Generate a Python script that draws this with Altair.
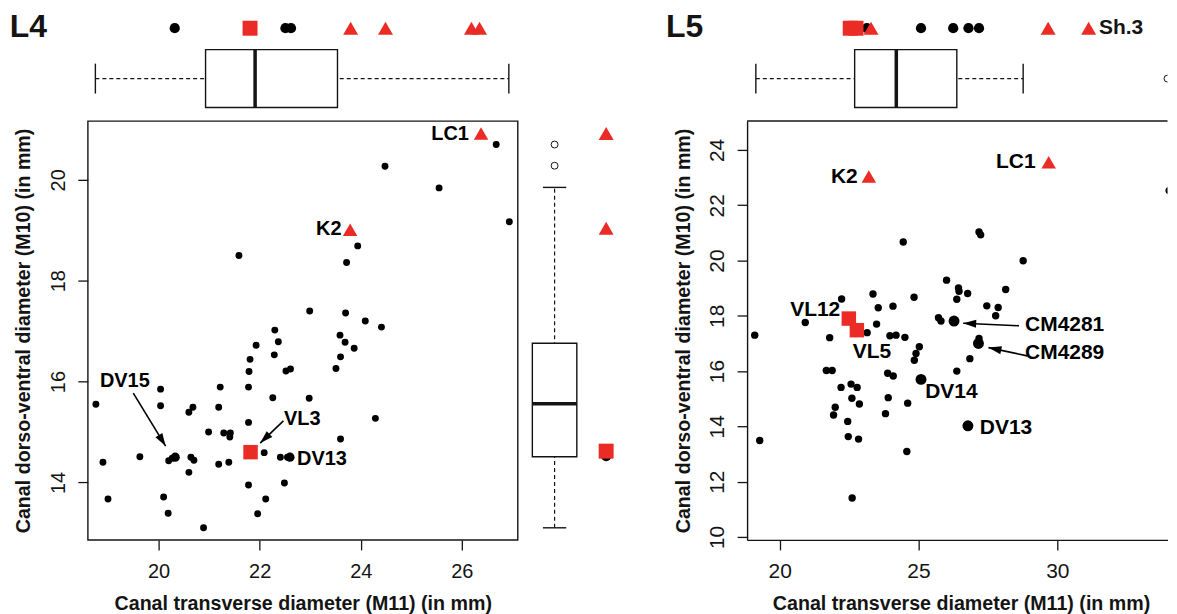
import math
import altair as alt
import pandas as pd

FONT = "Liberation Sans"
INK = "#141414"
RED = "#EB2B25"

PANEL_NAMES = ["L4", "L5"]
X_TITLE = "Canal transverse diameter (M11) (in mm)"
Y_TITLE = "Canal dorso-ventral diameter (M10) (in mm)"

# ---------------- L4 scatter ----------------
L4_X = [18.76, 18.90, 19.00, 19.63, 20.04, 20.04, 20.10, 20.19, 20.20, 20.27,
        20.60, 20.60, 20.68, 20.64, 20.70, 20.89, 20.99, 21.19, 21.22, 21.19,
        21.29, 21.41, 21.42, 21.39, 21.78, 21.78, 21.79, 21.78, 21.81, 21.93,
        22.09, 22.12, 21.96, 22.26, 22.29, 22.37, 22.30, 22.41, 22.55, 22.49,
        22.52, 22.61, 21.59, 23.94, 23.72, 22.99, 23.70, 24.09, 24.41, 23.59,
        23.69, 23.87, 23.60, 23.51, 22.98, 24.29, 23.60, 26.68, 24.48, 25.55,
        26.94]
L4_Y = [15.55, 14.40, 13.67, 14.51, 15.85, 15.52, 13.71, 13.39, 14.43, 14.48,
        14.20, 15.39, 15.49, 14.50, 14.44, 13.10, 15.00, 15.49, 15.89, 14.36,
        14.98, 14.90, 14.98, 14.40, 15.19, 13.95, 16.20, 15.89, 16.44, 16.72,
        14.59, 13.67, 13.38, 15.68, 16.53, 16.79, 17.02, 14.50, 14.50, 13.99,
        16.21, 16.25, 18.50, 18.69, 18.36, 17.40, 17.36, 17.20, 17.08, 16.92,
        16.78, 16.66, 16.49, 16.26, 15.67, 15.27, 14.86, 20.70, 20.27, 19.84,
        19.17]
L4_BIG_NAME = ["DV15", "DV13"]
L4_BIG_X = [20.33, 22.60]
L4_BIG_Y = [14.50, 14.50]
L4_RED_NAME = ["LC1", "K2", "VL3"]
L4_RED_X = [26.38, 23.79, 21.82]
L4_RED_Y = [20.92, 19.01, 14.60]
L4_RED_SHAPE = ["triangle-up", "triangle-up", "square"]
L4_LAB_TEXT = ["LC1", "K2", "DV15", "VL3", "DV13"]
L4_LAB_X = [26.14, 23.62, 18.84, 22.48, 22.74]
L4_LAB_Y = [20.91, 19.02, 16.02, 15.25, 14.47]
L4_LAB_ALIGN = ["right", "right", "left", "left", "left"]
L4_ARROW_X1 = [19.50, 22.47]
L4_ARROW_Y1 = [15.77, 15.22]
L4_ARROW_X2 = [20.14, 22.01]
L4_ARROW_Y2 = [14.72, 14.78]

# L4 marginal strips and box plots (lo whisker, Q1, median, Q3, hi whisker)
L4_TOP_BLACK = [20.32, 22.51, 22.62]
L4_TOP_SQUARE = [21.81]
L4_TOP_TRIANGLE = [23.80, 24.49, 26.19, 26.35]
L4_XBOX = [18.75, 20.93, 21.91, 23.54, 26.93]
L4_XOUT = []
L4_SIDE_BLACK = [14.52]
L4_SIDE_SQUARE = [14.62]
L4_SIDE_TRIANGLE = [20.92, 19.04]
L4_YBOX = [13.10, 14.51, 15.56, 16.76, 19.85]
L4_YOUT = [20.28, 20.70]

# ---------------- L5 scatter ----------------
L5_X = [24.45, 27.18, 27.24, 28.77, 26.01, 26.44, 26.46, 26.77, 28.14, 26.38,
        24.84, 23.36, 22.23, 23.55, 24.08, 27.46, 27.87, 27.78, 20.92, 23.49,
        25.72, 25.81, 23.15, 23.97, 24.19, 24.51, 21.80, 19.10, 25.03, 24.91,
        24.85, 26.85, 21.68, 21.89, 23.89, 24.09, 26.38, 22.21, 22.57, 22.79,
        23.91, 22.60, 22.87, 24.61, 22.00, 21.94, 23.81, 22.45, 22.47, 22.84,
        19.28, 24.58, 22.61, 34.03, 27.18]
L5_Y = [20.67, 21.03, 20.93, 19.99, 19.29, 19.01, 18.89, 18.81, 18.95, 18.60,
        18.67, 18.79, 18.61, 18.29, 18.35, 18.36, 18.30, 18.00, 17.76, 17.70,
        17.93, 17.81, 17.39, 17.28, 17.30, 17.22, 17.21, 17.30, 16.88, 16.64,
        16.39, 16.45, 16.02, 16.02, 15.92, 15.82, 16.00, 15.41, 15.53, 15.41,
        15.04, 15.02, 14.81, 14.84, 14.69, 14.41, 14.46, 14.18, 13.63, 13.54,
        13.49, 13.09, 11.41, 22.53, 17.18]
L5_BIG_NAME = ["CM4281", "CM4289", "DV14", "DV13"]
L5_BIG_X = [26.28, 27.16, 25.09, 26.78]
L5_BIG_Y = [17.81, 17.00, 15.70, 14.02]
L5_RED_NAME = ["K2", "LC1", "VL12", "VL5"]
L5_RED_X = [23.21, 29.69, 22.49, 22.78]
L5_RED_Y = [23.04, 23.56, 17.90, 17.48]
L5_RED_SHAPE = ["triangle-up", "triangle-up", "square", "square"]
L5_LAB_TEXT = ["K2", "LC1", "VL12", "VL5", "DV14", "DV13", "CM4281", "CM4289"]
L5_LAB_X = [22.81, 29.22, 22.18, 22.63, 25.24, 27.21, 28.84, 28.84]
L5_LAB_Y = [23.04, 23.56, 18.20, 16.68, 15.23, 13.93, 17.65, 16.64]
L5_LAB_ALIGN = ["right", "right", "right", "left", "left", "left", "left", "left"]
L5_ARROW_X1 = [28.62, 28.92]
L5_ARROW_Y1 = [17.64, 16.55]
L5_ARROW_X2 = [26.61, 27.52]
L5_ARROW_Y2 = [17.73, 16.85]

L5_TOP_BLACK = [23.14, 25.09, 26.25, 26.80, 27.18]
L5_TOP_SQUARE = [22.54, 22.75]
L5_TOP_TRIANGLE = [23.29, 29.67, 31.13]
L5_TOP_LABEL = ["Sh.3"]
L5_TOP_LABEL_X = [31.50]
L5_XBOX = [19.14, 22.70, 24.20, 26.38, 28.77]
L5_XOUT = [33.97]

# axis ranges and ticks (the L5 panel runs past the right edge of the picture)
L4_XDOM = [18.60, 27.105]
L4_YDOM = [12.86, 21.167]
L5_XDOM = [18.825, 33.97]
L5_YDOM = [9.892, 25.049]
L4_XTICKS = [20, 22, 24, 26]
L4_YTICKS = [14, 16, 18, 20]
L5_XTICKS = [20, 25, 30]
L5_YTICKS = [10, 12, 14, 16, 18, 20, 22, 24]

# ---------------- geometry (style) ----------------
W_L, W_R, W_MID = 431, 421.5, 221.3
H_TOP, H_MAIN = 104, 420
STRIP_Y = 15
BOX_Y0, BOX_Y1 = 36.5, 94.5
WHISK_Y = 65.5
CAP_Y0, CAP_Y1 = 50.5, 80.5
ARROW_PATH = "M0,0L-0.31,1L0.31,1Z"
TITLE_FS = 19.7
X_TITLE_Y = 69.6


def qscale(dom):
    return alt.Scale(domain=dom, nice=False, zero=False)


def top_strip(xdom, box, outs, black, square, tri, name, name_dx, width,
              lab=None, lab_x=None):
    sc = qscale(xdom)

    def X(f):
        return alt.X(f, type="quantitative", scale=sc, axis=None)

    lo, q1, med, q3, hi = box
    dbox = pd.DataFrame({"lo": [lo], "q1": [q1], "med": [med], "q3": [q3], "hi": [hi]})
    layers = [
        alt.Chart(dbox).mark_rule(color=INK, strokeWidth=1.2, strokeDash=[4, 3]).encode(
            x=X("lo"), x2="hi", y=alt.value(WHISK_Y)),
        alt.Chart(pd.DataFrame({"v": [lo, hi]})).mark_rule(color=INK, strokeWidth=1.4).encode(
            x=X("v"), y=alt.value(CAP_Y0), y2=alt.value(CAP_Y1)),
        alt.Chart(dbox).mark_rect(fill="white", stroke=INK, strokeWidth=1.4).encode(
            x=X("q1"), x2="q3", y=alt.value(BOX_Y0), y2=alt.value(BOX_Y1)),
        alt.Chart(dbox).mark_rule(color=INK, strokeWidth=3.5).encode(
            x=X("med"), y=alt.value(BOX_Y0), y2=alt.value(BOX_Y1)),
    ]
    if outs:
        layers.append(alt.Chart(pd.DataFrame({"v": outs})).mark_point(
            shape="circle", filled=False, color=INK, size=48, strokeWidth=1, opacity=1,
            clip=True).encode(x=X("v"), y=alt.value(WHISK_Y)))
    layers.append(alt.Chart(pd.DataFrame({"v": black})).mark_circle(
        color="black", size=105, opacity=1).encode(x=X("v"), y=alt.value(STRIP_Y)))
    layers.append(alt.Chart(pd.DataFrame({"v": square})).mark_point(
        shape="square", filled=True, color=RED, size=225, opacity=1).encode(
        x=X("v"), y=alt.value(STRIP_Y)))
    layers.append(alt.Chart(pd.DataFrame({"v": tri})).mark_point(
        shape="triangle-up", filled=True, color=RED, size=225, opacity=1).encode(
        x=X("v"), y=alt.value(STRIP_Y)))
    if lab:
        layers.append(alt.Chart(pd.DataFrame({"t": lab, "v": lab_x})).mark_text(
            font=FONT, fontSize=21, fontWeight="bold", color=INK, align="left",
            baseline="middle").encode(x=X("v"), y=alt.value(STRIP_Y), text="t:N"))
    layers.append(alt.Chart(pd.DataFrame({"t": [name]})).mark_text(
        font=FONT, fontSize=32, fontWeight="bold", color=INK, align="left",
        baseline="alphabetic").encode(x=alt.value(name_dx), y=alt.value(23.5), text="t:N"))
    return alt.layer(*layers).properties(width=width, height=H_TOP)


def side_strip(ydom, box, outs, black, square, tri, width):
    sc = qscale(ydom)

    def Y(f):
        return alt.Y(f, type="quantitative", scale=sc, axis=None)

    lo, q1, med, q3, hi = box
    cx, bx0, bx1, cp0, cp1, sx = 33, 10.7, 55.3, 21.3, 44.7, 84.7
    dbox = pd.DataFrame({"lo": [lo], "q1": [q1], "med": [med], "q3": [q3], "hi": [hi]})
    layers = [
        alt.Chart(dbox).mark_rule(color=INK, strokeWidth=1.2, strokeDash=[4, 3]).encode(
            y=Y("lo"), y2="hi", x=alt.value(cx)),
        alt.Chart(pd.DataFrame({"v": [lo, hi]})).mark_rule(color=INK, strokeWidth=1.4).encode(
            y=Y("v"), x=alt.value(cp0), x2=alt.value(cp1)),
        alt.Chart(dbox).mark_rect(fill="white", stroke=INK, strokeWidth=1.4).encode(
            y=Y("q1"), y2="q3", x=alt.value(bx0), x2=alt.value(bx1)),
        alt.Chart(dbox).mark_rule(color=INK, strokeWidth=3.5).encode(
            y=Y("med"), x=alt.value(bx0), x2=alt.value(bx1)),
        alt.Chart(pd.DataFrame({"v": outs})).mark_point(
            shape="circle", filled=False, color=INK, size=48, strokeWidth=1, opacity=1).encode(
            y=Y("v"), x=alt.value(cx)),
        alt.Chart(pd.DataFrame({"v": black})).mark_circle(
            color="black", size=105, opacity=1).encode(y=Y("v"), x=alt.value(sx)),
        alt.Chart(pd.DataFrame({"v": square})).mark_point(
            shape="square", filled=True, color=RED, size=225, opacity=1).encode(
            y=Y("v"), x=alt.value(sx)),
        alt.Chart(pd.DataFrame({"v": tri})).mark_point(
            shape="triangle-up", filled=True, color=RED, size=225, opacity=1).encode(
            y=Y("v"), x=alt.value(sx)),
    ]
    return alt.layer(*layers).properties(width=width, height=H_MAIN)


def scatter(xs, ys, bx, by, rx, ry, rshape, lt, lx, ly, la, ax1, ay1, ax2, ay2,
            xdom, ydom, width, xticks, yticks, tick_fs, lab_fs, dot, bigdot,
            xlpad, ylpad, frame):
    xsc, ysc = qscale(xdom), qscale(ydom)
    xax = alt.Axis(values=xticks, title=X_TITLE, grid=False, domain=not frame,
                   domainColor=INK, domainWidth=1.4, ticks=True, tickSize=10,
                   tickColor=INK, tickWidth=1.3, labelFont=FONT, labelFontSize=tick_fs,
                   labelColor=INK, labelPadding=xlpad, labelBaseline="top",
                   labelAlign="center", labelFlush=False, labelOverlap=False, format="d",
                   titleFont=FONT, titleFontSize=TITLE_FS, titleFontWeight="bold",
                   titleColor=INK, titleX=width / 2 if frame else 214.5, titleY=X_TITLE_Y,
                   titleAlign="center", titleBaseline="alphabetic")
    yax = alt.Axis(values=yticks, title=Y_TITLE, grid=False, domain=not frame,
                   domainColor=INK, domainWidth=1.4, ticks=True, tickSize=10,
                   tickColor=INK, tickWidth=1.3, labelFont=FONT, labelFontSize=tick_fs,
                   labelColor=INK, labelPadding=ylpad, labelAngle=270,
                   labelBaseline="alphabetic", labelAlign="center", labelFlush=False,
                   labelOverlap=False, format="d",
                   titleFont=FONT, titleFontSize=TITLE_FS, titleFontWeight="bold",
                   titleColor=INK, titleAngle=270, titleX=-58, titleY=H_MAIN / 2,
                   titleAlign="center", titleBaseline="alphabetic")

    def X(f):
        return alt.X(f, type="quantitative", scale=xsc, axis=xax)

    def Y(f):
        return alt.Y(f, type="quantitative", scale=ysc, axis=yax)

    sx = width / (xdom[1] - xdom[0])
    sy = H_MAIN / (ydom[1] - ydom[0])
    ang = []
    for a, b, c, d in zip(ax1, ay1, ax2, ay2):
        dx = (c - a) * sx
        dy = -(d - b) * sy
        ang.append(math.degrees(math.atan2(dx, -dy)) % 360)

    dpts = pd.DataFrame({"x": xs, "y": ys})
    dbig = pd.DataFrame({"x": bx, "y": by})
    dred = pd.DataFrame({"x": rx, "y": ry, "shape": rshape})
    dlab = pd.DataFrame({"t": lt, "x": lx, "y": ly, "al": la})
    darr = pd.DataFrame({"x1": ax1, "y1": ay1, "x2": ax2, "y2": ay2, "ang": ang})

    layers = [
        alt.Chart(dpts).mark_circle(color="black", size=dot, opacity=1,
                                    clip=not frame).encode(x=X("x"), y=Y("y")),
        alt.Chart(dbig).mark_circle(color="black", size=bigdot, opacity=1).encode(
            x=X("x"), y=Y("y")),
        alt.Chart(darr).mark_rule(color="black", strokeWidth=1.6).encode(
            x=X("x1"), y=Y("y1"), x2="x2", y2="y2"),
        alt.Chart(darr).mark_point(shape=ARROW_PATH, filled=True, color="black",
                                   size=676, opacity=1).encode(
            x=X("x2"), y=Y("y2"), angle=alt.Angle("ang:Q", scale=None)),
        alt.Chart(dred).mark_point(filled=True, color=RED, size=210, opacity=1).encode(
            x=X("x"), y=Y("y"), shape=alt.Shape("shape:N", scale=None)),
    ]
    for al in ["left", "right"]:
        sub = dlab[dlab["al"] == al]
        if len(sub):
            layers.append(alt.Chart(sub).mark_text(
                font=FONT, fontSize=lab_fs, fontWeight="bold", color="black", align=al,
                baseline="middle").encode(x=X("x"), y=Y("y"), text="t:N"))
    if not frame:
        layers.append(alt.Chart(pd.DataFrame({"a": [0]})).mark_rule(
            color=INK, strokeWidth=1.4).encode(
            x=alt.value(0), x2=alt.value(width), y=alt.value(0)))
    ch = alt.layer(*layers).properties(width=width, height=H_MAIN)
    if frame:
        ch = ch.properties(view=alt.ViewBackground(stroke=INK, strokeWidth=1.4))
    return ch


tl = top_strip(L4_XDOM, L4_XBOX, L4_XOUT, L4_TOP_BLACK, L4_TOP_SQUARE, L4_TOP_TRIANGLE,
               PANEL_NAMES[0], -78.3, W_L)
tr = top_strip(L5_XDOM, L5_XBOX, L5_XOUT, L5_TOP_BLACK, L5_TOP_SQUARE, L5_TOP_TRIANGLE,
               PANEL_NAMES[1], -81.3, W_R, L5_TOP_LABEL, L5_TOP_LABEL_X)
mid = alt.Chart(pd.DataFrame({"a": [0]})).mark_point(opacity=0).encode(
    x=alt.value(0), y=alt.value(0)).properties(width=W_MID, height=H_TOP)

ml = scatter(L4_X, L4_Y, L4_BIG_X, L4_BIG_Y, L4_RED_X, L4_RED_Y, L4_RED_SHAPE,
             L4_LAB_TEXT, L4_LAB_X, L4_LAB_Y, L4_LAB_ALIGN,
             L4_ARROW_X1, L4_ARROW_Y1, L4_ARROW_X2, L4_ARROW_Y2,
             L4_XDOM, L4_YDOM, W_L, L4_XTICKS, L4_YTICKS, 20, 20, 48, 85, 12, 13, True)
rl = side_strip(L4_YDOM, L4_YBOX, L4_YOUT, L4_SIDE_BLACK, L4_SIDE_SQUARE,
                L4_SIDE_TRIANGLE, W_MID)
mr = scatter(L5_X, L5_Y, L5_BIG_X, L5_BIG_Y, L5_RED_X, L5_RED_Y, L5_RED_SHAPE,
             L5_LAB_TEXT, L5_LAB_X, L5_LAB_Y, L5_LAB_ALIGN,
             L5_ARROW_X1, L5_ARROW_Y1, L5_ARROW_X2, L5_ARROW_Y2,
             L5_XDOM, L5_YDOM, W_R, L5_XTICKS, L5_YTICKS, 21, 21, 55, 120, 10.5, 14, False)

chart = alt.concat(tl, mid, tr, ml, rl, mr, columns=3, spacing=4, bounds="flush",
                   align="each").resolve_scale(x="independent", y="independent")
chart = chart.properties(
    padding={"left": 1, "top": 0.5, "right": 0, "bottom": 0},
    background="white",
).configure_view(stroke="transparent")

chart.save("out.html", embed_options={"renderer": "svg", "actions": False})
